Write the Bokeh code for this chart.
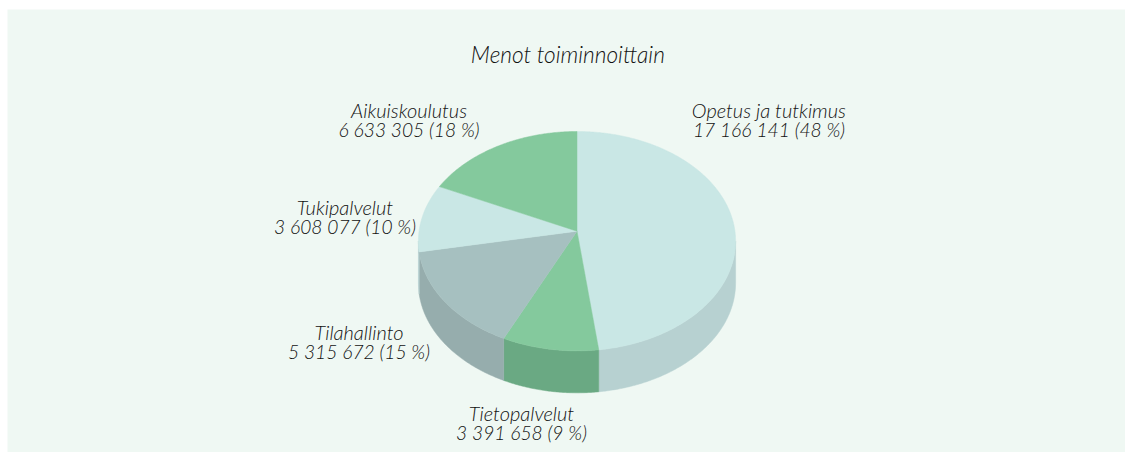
import math
from bokeh.plotting import figure
from bokeh.models import Range1d
from bokeh.core.properties import value
from bokeh.embed import file_html
from bokeh.resources import INLINE

categories = ["Opetus ja tutkimus", "Tietopalvelut", "Tilahallinto", "Tukipalvelut", "Aikuiskoulutus"]
amounts = ["17 166 141", "3 391 658", "5 315 672", "3 608 077", "6 633 305"]
percents = [48, 9, 15, 10, 18]
top_colors = ["#c9e7e5", "#84c99d", "#a6c0c0", "#c9e7e5", "#84c99d"]
side_colors = ["#b7d1d1", "#6aa983", "#96adad", "#b7d1d1", "#6aa983"]
title = "Menot toiminnoittain"

W, H = 1125, 452
CX, CY = 576.5, 230.7  # projected pie centre
K = 1 / 11             # perspective strength
A = 99.7 * (1 + K)
B = 158.6 * math.sqrt(1 - K * K)
DEPTH = 42
FONT = "Lato Light, Lato"
TEXT = "#111111"

label_pos = {
    "Opetus ja tutkimus": (768.5, 110),
    "Tietopalvelut": (521, 413),
    "Tilahallinto": (358.5, 332),
    "Tukipalvelut": (344.5, 207),
    "Aikuiskoulutus": (408.5, 110),
}


def project(theta):
    X, Y = math.sin(theta), -math.cos(theta)
    d = 1 - K * Y
    return CX + B * X / d, CY + A * Y / d


def arc(a0, a1, step=0.5):
    n = max(2, int(abs(a1 - a0) / step) + 1)
    return [math.radians(a0 + (a1 - a0) * i / n) for i in range(n + 1)]


p = figure(width=W, height=H, output_backend="svg", toolbar_location=None,
           x_range=Range1d(0, W), y_range=Range1d(H, 0),
           background_fill_color="#ffffff", border_fill_color="#ffffff",
           outline_line_color=None, min_border=0)
p.axis.visible = False
p.grid.visible = False
p.quad(left=[7], right=[W], top=[9], bottom=[H], fill_color="#eff8f3", line_color=None)

vis0 = math.degrees(math.acos(-K))      # silhouette right
vis1 = 360 - vis0                        # silhouette left

start = 0.0
side_xs, side_ys, side_c = [], [], []
top_xs, top_ys, top_c = [], [], []
for pct, tc, sc in zip(percents, top_colors, side_colors):
    end = start + pct * 3.6
    s0, s1 = max(start, vis0), min(end, vis1)
    if s1 > s0:
        pts = [project(t) for t in arc(s0, s1)]
        side_xs.append([q[0] for q in pts] + [q[0] for q in reversed(pts)])
        side_ys.append([q[1] for q in pts] + [q[1] + DEPTH for q in reversed(pts)])
        side_c.append(sc)
    pts = [project(t) for t in arc(start, end)]
    top_xs.append([CX] + [q[0] for q in pts])
    top_ys.append([CY] + [q[1] for q in pts])
    top_c.append(tc)
    start = end

p.patches(side_xs, side_ys, fill_color=side_c, line_color=side_c, line_width=0.5)
p.patches(top_xs, top_ys, fill_color=top_c, line_color=top_c, line_width=0.5)

p.text([567.5], [54], text=[title], text_font=value(FONT), text_font_style="italic",
       text_font_size="22.7px", text_color=TEXT, text_align="center", text_baseline="middle")

nx, ny, nt, ax, ay, at = [], [], [], [], [], []
for name, amount, pct in zip(categories, amounts, percents):
    x, y = label_pos[name]
    nx.append(x)
    ny.append(y - 0.5)
    nt.append(name)
    ax.append(x)
    ay.append(y + 19)
    at.append(f"{amount} ({pct} %)")
p.text(nx, ny, text=nt, text_font=value(FONT), text_font_style="italic",
       text_font_size="20px", text_color=TEXT, text_align="center", text_baseline="middle")
p.text(ax, ay, text=at, text_font=value(FONT), text_font_style="italic",
       text_font_size="19.2px", text_color=TEXT, text_align="center", text_baseline="middle")

open("out.html", "w").write(file_html(p, INLINE))
